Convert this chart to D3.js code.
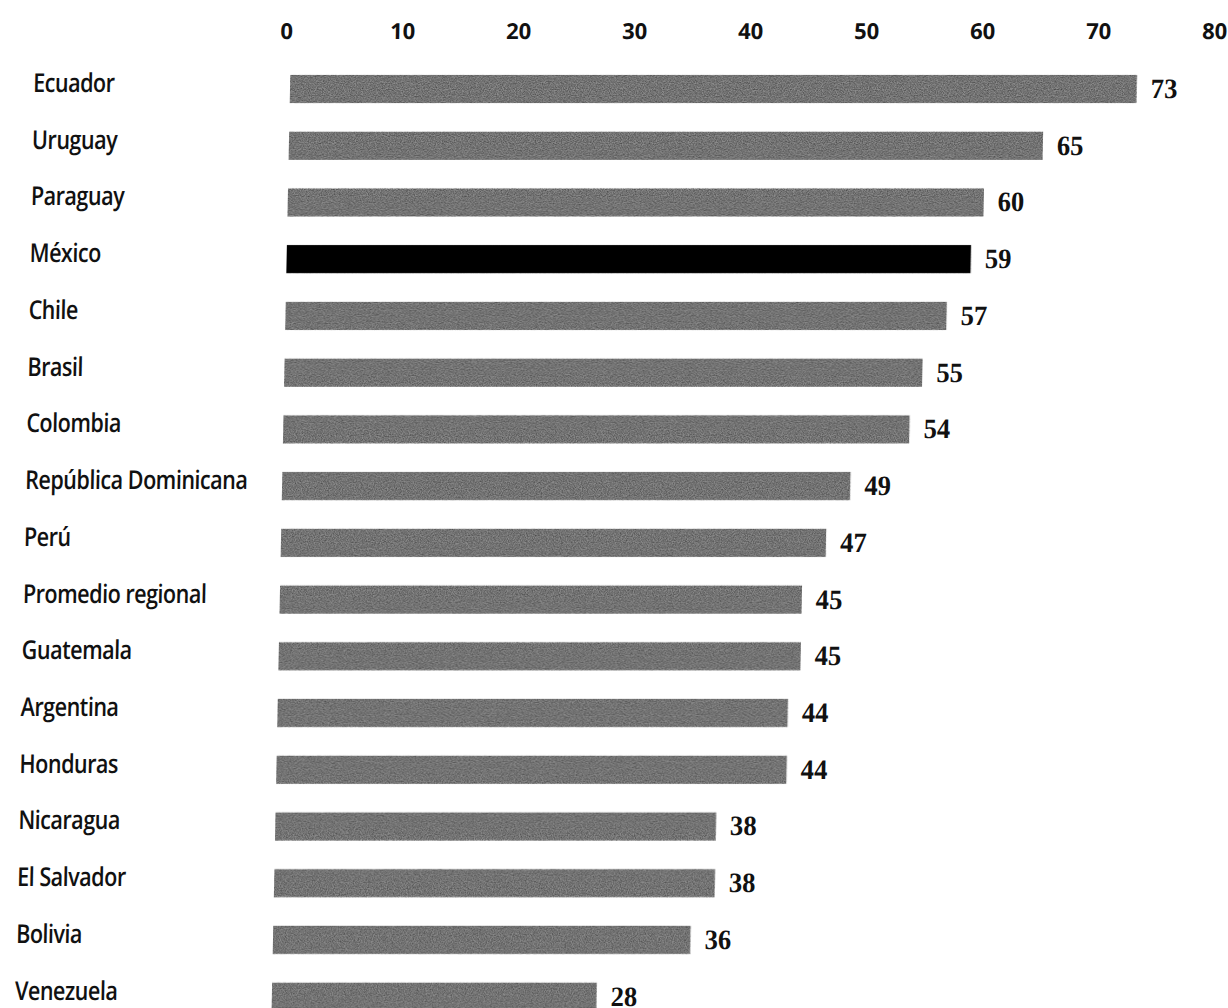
<!DOCTYPE html>
<html>
<head>
<meta charset="utf-8">
<script src="https://cdn.jsdelivr.net/npm/d3@7"></script>
<style>
  html, body { margin: 0; padding: 0; background: #fff; }
  svg { display: block; }
</style>
</head>
<body>
<svg id="chart" width="1228" height="1008"></svg>
<script>
// Countries, top to bottom
const categories = [
  "Ecuador", "Uruguay", "Paraguay", "México", "Chile", "Brasil", "Colombia",
  "República Dominicana", "Perú", "Promedio regional", "Guatemala", "Argentina",
  "Honduras", "Nicaragua", "El Salvador", "Bolivia", "Venezuela"
];
// Percentage per country
const values = [73, 65, 60, 59, 57, 55, 54, 49, 47, 45, 45, 44, 44, 38, 38, 36, 28];
// Country drawn in black
const highlighted = ["México"];
// Top axis ticks
const tickValues = [0, 10, 20, 30, 40, 50, 60, 70, 80];

const data = categories.map((c, i) => ({ name: c, value: values[i] }));

const x0 = 290, pxPerUnit = 11.6;
const rowStep = 56.73, firstRowCenter = 89;

const svg = d3.select("#chart");

// printed-grain texture for the bars
const defs = svg.append("defs");
const grain = defs.append("filter")
  .attr("id", "grain")
  .attr("color-interpolation-filters", "sRGB")
  .attr("x", 0).attr("y", 0).attr("width", "100%").attr("height", "100%");
grain.append("feTurbulence")
  .attr("type", "fractalNoise")
  .attr("baseFrequency", 0.85)
  .attr("numOctaves", 2)
  .attr("seed", 7)
  .attr("result", "noise");
grain.append("feColorMatrix")
  .attr("in", "noise")
  .attr("type", "matrix")
  .attr("values", "0.8 0 0 0 0.42  0.8 0 0 0 0.42  0.8 0 0 0 0.42  0 0 0 0 1")
  .attr("result", "gray");
grain.append("feBlend")
  .attr("in", "SourceGraphic")
  .attr("in2", "gray")
  .attr("mode", "multiply")
  .attr("result", "mixed");
grain.append("feComposite")
  .attr("in", "mixed")
  .attr("in2", "SourceGraphic")
  .attr("operator", "in");

// page is slightly slanted, so everything shares a small shear
const g = svg.append("g")
  .attr("transform", `matrix(1,0,-0.02,1,${0.02 * firstRowCenter},0)`);

const x = d3.scaleLinear()
  .domain([0, 80])
  .range([x0, x0 + 80 * pxPerUnit]);

const y = d3.scaleBand()
  .domain(categories)
  .range([firstRowCenter - rowStep / 2, firstRowCenter - rowStep / 2 + rowStep * categories.length])
  .paddingInner(0.5)
  .paddingOuter(0.25);

// top axis: labels only
const axis = g.append("g")
  .attr("transform", "translate(0,39)")
  .call(d3.axisTop(x).tickValues(tickValues).tickSize(0).tickPadding(0).tickFormat(d3.format("d")));
axis.select(".domain").remove();
axis.selectAll("text")
  .attr("dx", -5)
  .attr("font-family", "'Open Sans', sans-serif")
  .attr("font-weight", 700)
  .attr("font-size", 22)
  .attr("fill", "#111");

// bars
g.selectAll("rect.bar")
  .data(data)
  .join("rect")
  .attr("class", "bar")
  .attr("x", x(0))
  .attr("y", d => y(d.name))
  .attr("width", d => x(d.value) - x(0))
  .attr("height", y.bandwidth())
  .attr("fill", d => highlighted.includes(d.name) ? "#000" : "#8c8c8c")
  .attr("filter", "url(#grain)");

// country names
g.selectAll("text.name")
  .data(data)
  .join("text")
  .attr("class", "name")
  .attr("transform", d => `translate(33,${y(d.name) + y.bandwidth() / 2 + 3}) scale(0.83,1)`)
  .attr("font-family", "'Open Sans', sans-serif")
  .attr("font-weight", 600)
  .attr("font-size", 26)
  .attr("letter-spacing", -0.6)
  .attr("fill", "#111")
  .text(d => d.name);

// value labels
g.selectAll("text.val")
  .data(data)
  .join("text")
  .attr("class", "val")
  .attr("transform", d => `translate(${x(d.value) + 14},${y(d.name) + y.bandwidth() / 2 + 9}) scale(0.95,1)`)
  .attr("font-family", "'Liberation Serif', 'Times New Roman', serif")
  .attr("font-weight", 700)
  .attr("font-size", 28)
  .attr("fill", "#111")
  .text(d => d.value);
</script>
</body>
</html>
